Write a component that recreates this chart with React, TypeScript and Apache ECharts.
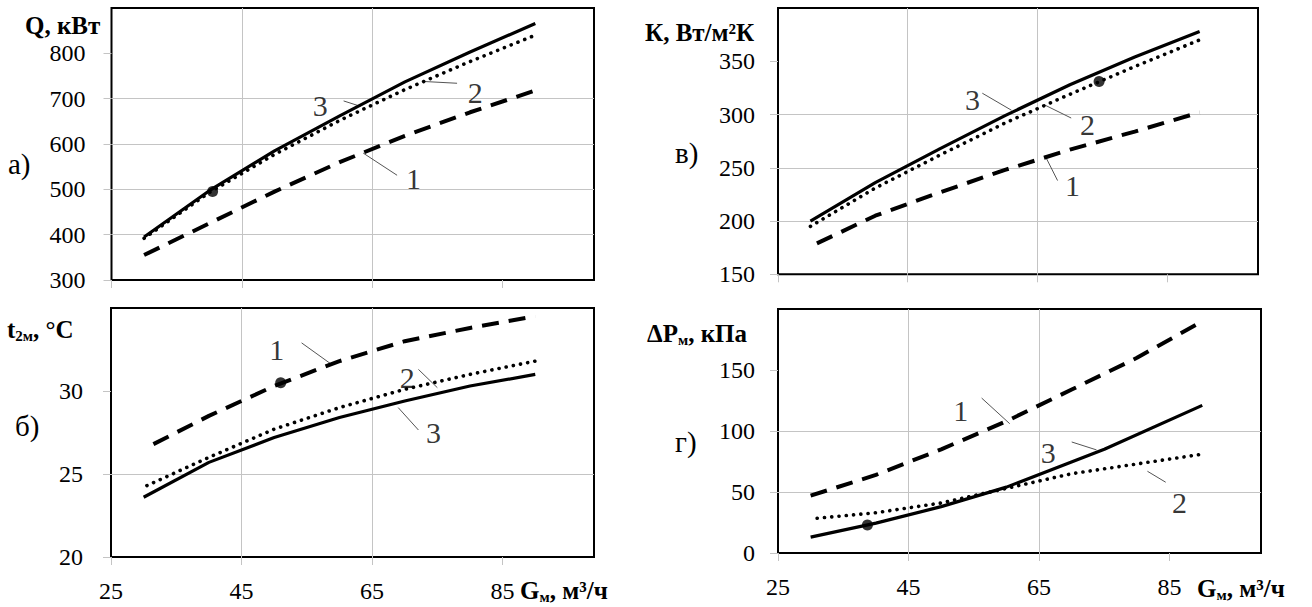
import React, { useEffect, useRef } from "react";
import * as echarts from "echarts";

const FONT = '"Liberation Serif", "Times New Roman", serif';

// Common x axis (G, m3/h)
const xTickValues = [25, 45, 65, 85];

// Panel а) Q, кВт
const qG1 = [30, 40, 50, 60, 70, 80, 90];
const qCurve1 = [355, 425, 495, 560, 618, 670, 718];
const qG2 = [30, 40, 50, 60, 70, 80, 90];
const qCurve2 = [392, 493, 577, 652, 720, 782, 840];
const qG3 = [30, 40, 50, 60, 70, 80, 90];
const qCurve3 = [395, 497, 585, 662, 737, 803, 866];
const qDot = [40.5, 495];
const qTicks = [300, 400, 500, 600, 700, 800];
const qLabels = [
  { t: "3", g: 57, v: 685 },
  { t: "2", g: 80.8, v: 714 },
  { t: "1", g: 71.3, v: 525 },
];
const qLeaders = [
  [[60.6, 695], [63.2, 683]],
  [[78, 734], [72.8, 738]],
  [[68.8, 531], [63.6, 580]],
];

// Panel в) K, Вт/м²К
const kG1 = [31, 40, 50, 60, 70, 80, 90];
const kCurve1 = [179, 205, 227, 248, 267, 284, 302];
const kG2 = [30, 40, 50, 60, 70, 80, 90];
const kCurve2 = [195, 231, 262, 292, 319, 345, 370];
const kG3 = [30, 40, 50, 60, 70, 80, 90];
const kCurve3 = [200, 236, 268, 299, 328, 354, 378];
const kDot = [74.5, 331];
const kTicks = [150, 200, 250, 300, 350];
const kLabels = [
  { t: "3", g: 55, v: 314 },
  { t: "2", g: 72.7, v: 291 },
  { t: "1", g: 70.4, v: 233 },
];
const kLeaders = [
  [[56.5, 320], [61, 304]],
  [[70.2, 296.7], [66.1, 309]],
  [[68.1, 238], [66.2, 261]],
];

// Panel б) t2м, °C
const tG1 = [31.5, 40, 50, 60, 70, 80, 90];
const tCurve1 = [26.8, 28.5, 30.3, 31.8, 33.0, 33.8, 34.5];
const tG2 = [30.5, 40, 50, 60, 70, 80, 90];
const tCurve2 = [24.3, 26.0, 27.7, 29.0, 30.1, 31.0, 31.8];
const tG3 = [30, 40, 50, 60, 70, 80, 90];
const tCurve3 = [23.6, 25.7, 27.2, 28.4, 29.4, 30.3, 31.0];
const tDot = [51, 30.5];
const tTicks = [20, 25, 30];
const tLabels = [
  { t: "1", g: 50.4, v: 32.5 },
  { t: "2", g: 70.4, v: 30.8 },
  { t: "3", g: 74.4, v: 27.5 },
];
const tLeaders = [
  [[54.2, 32.9], [58.8, 31.6]],
  [[72.1, 31.3], [75, 30.2]],
  [[72.1, 27.65], [69, 29.0]],
];

// Panel г) ΔPм, кПа
const pG1 = [30, 40, 50, 60, 70, 80, 90];
const pCurve1 = [47, 64, 85, 108, 134, 160, 190];
const pG2 = [31, 40, 50, 60, 70, 80, 90];
const pCurve2 = [28.5, 33, 41, 53, 65, 73, 81];
const pG3 = [30, 40, 50, 60, 75, 90];
const pCurve3 = [13, 24.5, 38, 54, 85, 121];
const pDot = [38.7, 23];
const pTicks = [0, 50, 100, 150];
const pLabels = [
  { t: "1", g: 53, v: 117 },
  { t: "3", g: 66.4, v: 82 },
  { t: "2", g: 86.5, v: 41 },
];
const pLeaders = [
  [[56.2, 127], [60.5, 106]],
  [[70, 91], [73.8, 84.5]],
  [[84.4, 58], [81.6, 67]],
];

const pair = (g: number[], v: number[]) => g.map((x, i) => [x, v[i]]);

const GRID_COLOR = "#c4c4c4";

function makeX(idx: number, showLabels: boolean) {
  return {
    type: "value",
    gridIndex: idx,
    min: 25,
    max: 99,
    interval: 20,
    axisLine: { show: false },
    axisTick: {
      show: true,
      length: 8,
      customValues: xTickValues,
      lineStyle: { color: GRID_COLOR, width: 1 },
    },
    splitLine: {
      show: true,
      showMinLine: false,
      showMaxLine: false,
      lineStyle: { color: GRID_COLOR, width: 1 },
    },
    axisLabel: {
      show: showLabels,
      customValues: xTickValues,
      formatter: (v: number) => (xTickValues.includes(v) ? String(v) : ""),
      fontSize: 24,
      fontFamily: FONT,
      color: "#000",
      margin: 22,
    },
  };
}

function makeY(idx: number, min: number, max: number, interval: number, ticks: number[], margin: number) {
  return {
    type: "value",
    gridIndex: idx,
    min,
    max,
    interval,
    axisLine: { show: false },
    axisTick: {
      show: true,
      length: 8,
      customValues: ticks,
      lineStyle: { color: GRID_COLOR, width: 1 },
    },
    splitLine: {
      show: true,
      showMinLine: false,
      showMaxLine: false,
      lineStyle: { color: GRID_COLOR, width: 1 },
    },
    axisLabel: {
      customValues: ticks,
      formatter: (v: number) => (ticks.includes(v) ? String(v) : ""),
      fontSize: 24,
      fontFamily: FONT,
      color: "#000",
      margin,
    },
  };
}

function panelSeries(
  idx: number,
  c1: number[][],
  c2: number[][],
  c3: number[][],
  dot: number[],
  labels: { t: string; g: number; v: number }[],
  leaders: number[][][]
) {
  const base = { xAxisIndex: idx, yAxisIndex: idx };
  return [
    {
      ...base,
      type: "line",
      data: c1,
      symbol: "none",
      lineStyle: { color: "#000", width: 4, type: [17, 10] },
      z: 3,
    },
    {
      ...base,
      type: "line",
      data: c2,
      symbol: "none",
      lineStyle: { color: "#000", width: 3.6, type: [0.1, 7.2], cap: "round" },
      z: 3,
    },
    {
      ...base,
      type: "line",
      data: c3,
      symbol: "none",
      lineStyle: { color: "#000", width: 3.2 },
      z: 4,
    },
    {
      ...base,
      type: "lines",
      coordinateSystem: "cartesian2d",
      data: leaders.map((c) => ({ coords: c })),
      lineStyle: { color: "#555", width: 1, opacity: 1 },
      z: 2,
    },
    {
      ...base,
      type: "scatter",
      data: [dot],
      symbol: "circle",
      symbolSize: 11,
      itemStyle: { color: "#000" },
      z: 5,
    },
    {
      ...base,
      type: "scatter",
      data: labels.map((l) => ({ name: l.t, value: [l.g, l.v] })),
      symbolSize: 1,
      itemStyle: { color: "rgba(0,0,0,0)" },
      label: {
        show: true,
        position: "inside",
        formatter: "{b}",
        fontSize: 30,
        fontFamily: FONT,
        color: "#000",
      },
      z: 5,
    },
  ];
}

const rich = {
  b: { fontFamily: FONT, fontSize: 25, fontWeight: "bold", color: "#000", lineHeight: 28 },
  s: { fontFamily: FONT, fontSize: 15, fontWeight: "bold", color: "#000", lineHeight: 14, verticalAlign: "bottom" },
};

function titleText(x: number, y: number, text: string) {
  return {
    type: "text",
    x,
    y,
    style: {
      text,
      rich,
      fill: "#000",
      align: "left",
      textAlign: "left",
      verticalAlign: "middle",
      textVerticalAlign: "middle",
    },
  };
}

function letterText(x: number, y: number, text: string) {
  return {
    type: "text",
    x,
    y,
    style: {
      text,
      fill: "#000",
      fontFamily: FONT,
      fontSize: 29,
      align: "left",
      textAlign: "left",
      verticalAlign: "middle",
      textVerticalAlign: "middle",
    },
  };
}

export default function App() {
  const ref = useRef<HTMLDivElement>(null);
  useEffect(() => {
    if (!ref.current) return;
    const chart = echarts.init(ref.current, null, { renderer: "svg" });
    const gridBase = {
      show: true,
      borderColor: "#000",
      borderWidth: 2,
      backgroundColor: "transparent",
      containLabel: false,
      outerBoundsMode: "none",
    };
    chart.setOption({
      animation: false,
      backgroundColor: "#fff",
      grid: [
        { ...gridBase, left: 111.5, top: 8, width: 482.5, height: 272 },
        { ...gridBase, left: 778, top: 8, width: 480, height: 266.3 },
        { ...gridBase, left: 111, top: 308, width: 483, height: 249 },
        { ...gridBase, left: 778, top: 309, width: 483, height: 244 },
      ],
      xAxis: [makeX(0, false), makeX(1, false), makeX(2, true), makeX(3, true)],
      yAxis: [
        makeY(0, 300, 900, 100, qTicks, 26),
        makeY(1, 150, 400, 50, kTicks, 23),
        makeY(2, 20, 35, 5, tTicks, 28),
        makeY(3, 0, 200, 50, pTicks, 23),
      ],
      series: [
        ...panelSeries(0, pair(qG1, qCurve1), pair(qG2, qCurve2), pair(qG3, qCurve3), qDot, qLabels, qLeaders),
        ...panelSeries(1, pair(kG1, kCurve1), pair(kG2, kCurve2), pair(kG3, kCurve3), kDot, kLabels, kLeaders),
        ...panelSeries(2, pair(tG1, tCurve1), pair(tG2, tCurve2), pair(tG3, tCurve3), tDot, tLabels, tLeaders),
        ...panelSeries(3, pair(pG1, pCurve1), pair(pG2, pCurve2), pair(pG3, pCurve3), pDot, pLabels, pLeaders),
      ],
      graphic: [
        titleText(25, 25, "{b|Q, кВт}"),
        titleText(645, 32, "{b|К, Вт/м²К}"),
        titleText(7, 329, "{b|t}{s|2м}{b|, °C}"),
        titleText(647, 333, "{b|ΔP}{s|м}{b|, кПа}"),
        titleText(520, 590, "{b|G}{s|м}{b|, м³/ч}"),
        titleText(1197, 588, "{b|G}{s|м}{b|, м³/ч}"),
        letterText(8, 164, "а)"),
        letterText(15, 426, "б)"),
        letterText(675, 153, "в)"),
        letterText(675, 442, "г)"),
      ],
    });
    return () => chart.dispose();
  }, []);
  return (
    <div
      ref={ref}
      style={{ position: "fixed", left: 0, top: 0, width: 1312, height: 607, background: "#fff" }}
    />
  );
}
